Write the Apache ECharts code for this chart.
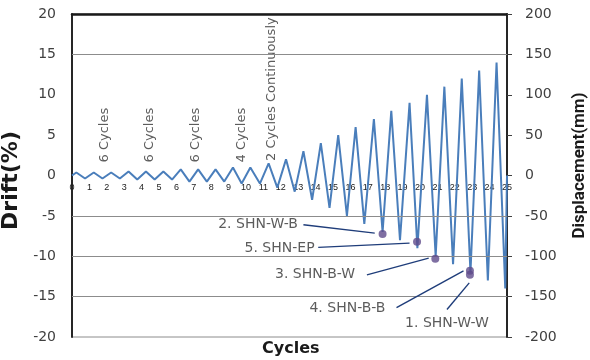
<!DOCTYPE html>
<html><head><meta charset="utf-8">
<script src="https://cdn.jsdelivr.net/npm/echarts@6/dist/echarts.min.js"></script>
<style>html,body{margin:0;padding:0;background:#fff}#c{width:590px;height:360px}</style>
</head><body><div id="c"></div>
<script>
// Loading protocol: cycle position vs drift (%)
const cycleX = [0,0.25,0.75,1.25,1.75,2.25,2.75,3.25,3.75,4.25,4.75,5.25,5.75,6.25,6.75,7.25,7.75,8.25,8.75,9.25,9.75,10.25,10.8,11.3,11.8,12.3,12.8,13.3,13.8,14.3,14.8,15.3,15.8,16.3,16.8,17.35,17.85,18.35,18.85,19.4,19.85,20.4,20.9,21.4,21.9,22.4,22.9,23.4,23.9,24.4,24.9,25];
const driftPct = [0,0.375,-0.375,0.375,-0.375,0.375,-0.375,0.5,-0.5,0.5,-0.5,0.5,-0.5,0.75,-0.75,0.75,-0.75,0.75,-0.75,1,-1,1,-1,1.5,-1.5,2,-2,3,-3,4,-4,5,-5,6,-6,7,-7,8,-8,9,-9,10,-10,11,-11,12,-12,13,-13,14,-14,0];

// Specimen failure points
const specimenNames = ['2. SHN-W-B','5. SHN-EP','3. SHN-B-W','4. SHN-B-B','1. SHN-W-W'];
const specimenX = [17.85,19.83,20.88,22.87,22.87];
const specimenY = [-7.25,-8.2,-10.3,-11.8,-12.3];

// Annotation label anchors (data coords) and arrow start/end
const labelX = [10.69,11.93,13.97,15.83,21.55];
const labelY = [-6.1,-9.0,-12.3,-16.4,-18.3];
const arrowFromX = [13.3,14.15,16.95,18.65,21.55];
const arrowFromY = [-6.1,-8.9,-12.3,-16.35,-16.6];
const arrowToX = [17.4,19.4,20.5,22.5,22.83];
const arrowToY = [-7.14,-8.38,-10.24,-11.81,-13.3];

// Cycle group annotations
const groupNames = ['6 Cycles','6 Cycles','6 Cycles','4 Cycles','2 Cycles Continuously'];
const groupX = [1.88,4.45,7.1,9.76,11.49];
const groupY = [5.0,5.0,5.0,5.0,10.7];

// Axis ticks
const driftTicks = {min:-20, max:20, step:5};
const dispTicks = {min:-200, max:200, step:50};
const cycleTicks = {min:0, max:25, step:1};
const gridValues = [15,-5,-10,-15];

const gridTop = 14, gridBottom = 23, H = 360;
const gridH = H - gridTop - gridBottom;
// x axis sits on drift = 0, i.e. at the vertical middle of the symmetric range
const zeroOffset = -gridH * (0 - driftTicks.min) / (driftTicks.max - driftTicks.min);

const chart = echarts.init(document.getElementById('c'), null, {renderer:'canvas'});
const lblColor = '#404040';
chart.setOption({
  animation:false,
  grid:{left:72, right:83, top:gridTop, bottom:gridBottom, show:true, borderColor:'#8c8c8c', borderWidth:1,
        containLabel:false, outerBoundsMode:'none'},
  xAxis:[{
    type:'value', min:cycleTicks.min, max:cycleTicks.max, interval:cycleTicks.step,
    position:'bottom', offset:zeroOffset,
    axisLine:{show:false, onZero:false},
    axisTick:{show:false}, splitLine:{show:false},
    axisLabel:{fontSize:9, fontFamily:'Liberation Sans', color:'#222', margin:8}
  },{
    type:'value', position:'top', min:cycleTicks.min, max:cycleTicks.max,
    axisLine:{show:true, onZero:false, lineStyle:{color:'#1a1a1a', width:2.5}},
    axisTick:{show:false}, axisLabel:{show:false}, splitLine:{show:false}
  }],
  yAxis:[{
    type:'value', position:'left', min:driftTicks.min, max:driftTicks.max, interval:driftTicks.step,
    name:'Drift(%)', nameLocation:'middle', nameGap:45,
    nameTextStyle:{fontFamily:'DejaVu Sans', fontWeight:'bold', fontSize:22, color:'#1a1a1a', padding:[0,10,0,0]},
    axisLine:{show:true, onZero:false, lineStyle:{color:'#262626', width:2}},
    axisTick:{show:false}, splitLine:{show:false},
    axisLabel:{fontSize:14, fontFamily:'DejaVu Sans', color:lblColor, margin:16}
  },{
    type:'value', position:'right', min:dispTicks.min, max:dispTicks.max, interval:dispTicks.step,
    name:'Displacement(mm)', nameLocation:'middle', nameGap:64,
    nameTextStyle:{fontFamily:'Roboto', fontWeight:'bold', fontSize:17, color:'#1a1a1a', padding:[0,0,0,20]},
    axisLine:{show:true, onZero:false, lineStyle:{color:'#262626', width:2}},
    axisTick:{show:true, inside:false, length:5, lineStyle:{color:'#404040'}},
    splitLine:{show:false},
    axisLabel:{fontSize:14, fontFamily:'DejaVu Sans', color:lblColor, margin:18}
  }],
  graphic:[{type:'text', left:262, top:341, style:{text:'Cycles', font:'bold 16px "DejaVu Sans"', fill:'#1a1a1a'}}],
  series:[{
    type:'line', name:'Drift', xAxisIndex:0, yAxisIndex:0, showSymbol:false, symbol:'none',
    data: cycleX.map((x,i)=>[x, driftPct[i]]),
    lineStyle:{color:'#4a7ebb', width:2}, z:3,
    markLine:{silent:true, symbol:'none', label:{show:false}, animation:false,
      lineStyle:{color:'#8c8c8c', width:1, type:'solid'},
      data: gridValues.map(v=>({yAxis:v}))}
  },{
    type:'scatter', name:'Specimens', xAxisIndex:0, yAxisIndex:0,
    data: specimenX.map((x,i)=>[x, specimenY[i]]),
    symbolSize:8, itemStyle:{color:'#5f4b8b'}, z:5
  },{
    type:'scatter', name:'Labels', xAxisIndex:0, yAxisIndex:0, symbolSize:0, silent:true,
    data: specimenNames.map((n,i)=>({name:n, value:[labelX[i], labelY[i]]})),
    label:{show:true, position:'inside', formatter:'{b}', fontSize:14, fontFamily:'DejaVu Sans', color:'#333'},
    markLine:{silent:true, symbol:['none','arrow'], symbolSize:[0,7], label:{show:false},
      lineStyle:{color:'#1f3d7a', width:1.4, type:'solid', curveness:0.15},
      data: arrowFromX.map((x,i)=>[{coord:[x, arrowFromY[i]]},{coord:[arrowToX[i], arrowToY[i]]}])}
  },{
    type:'scatter', name:'Groups', xAxisIndex:0, yAxisIndex:0, symbolSize:0, silent:true,
    data: groupNames.map((n,i)=>({name:n, value:[groupX[i], groupY[i]]})),
    label:{show:true, position:'inside', rotate:90, formatter:'{b}', fontSize:13, fontFamily:'DejaVu Sans', color:'#333'}
  }]
});
</script></body></html>
